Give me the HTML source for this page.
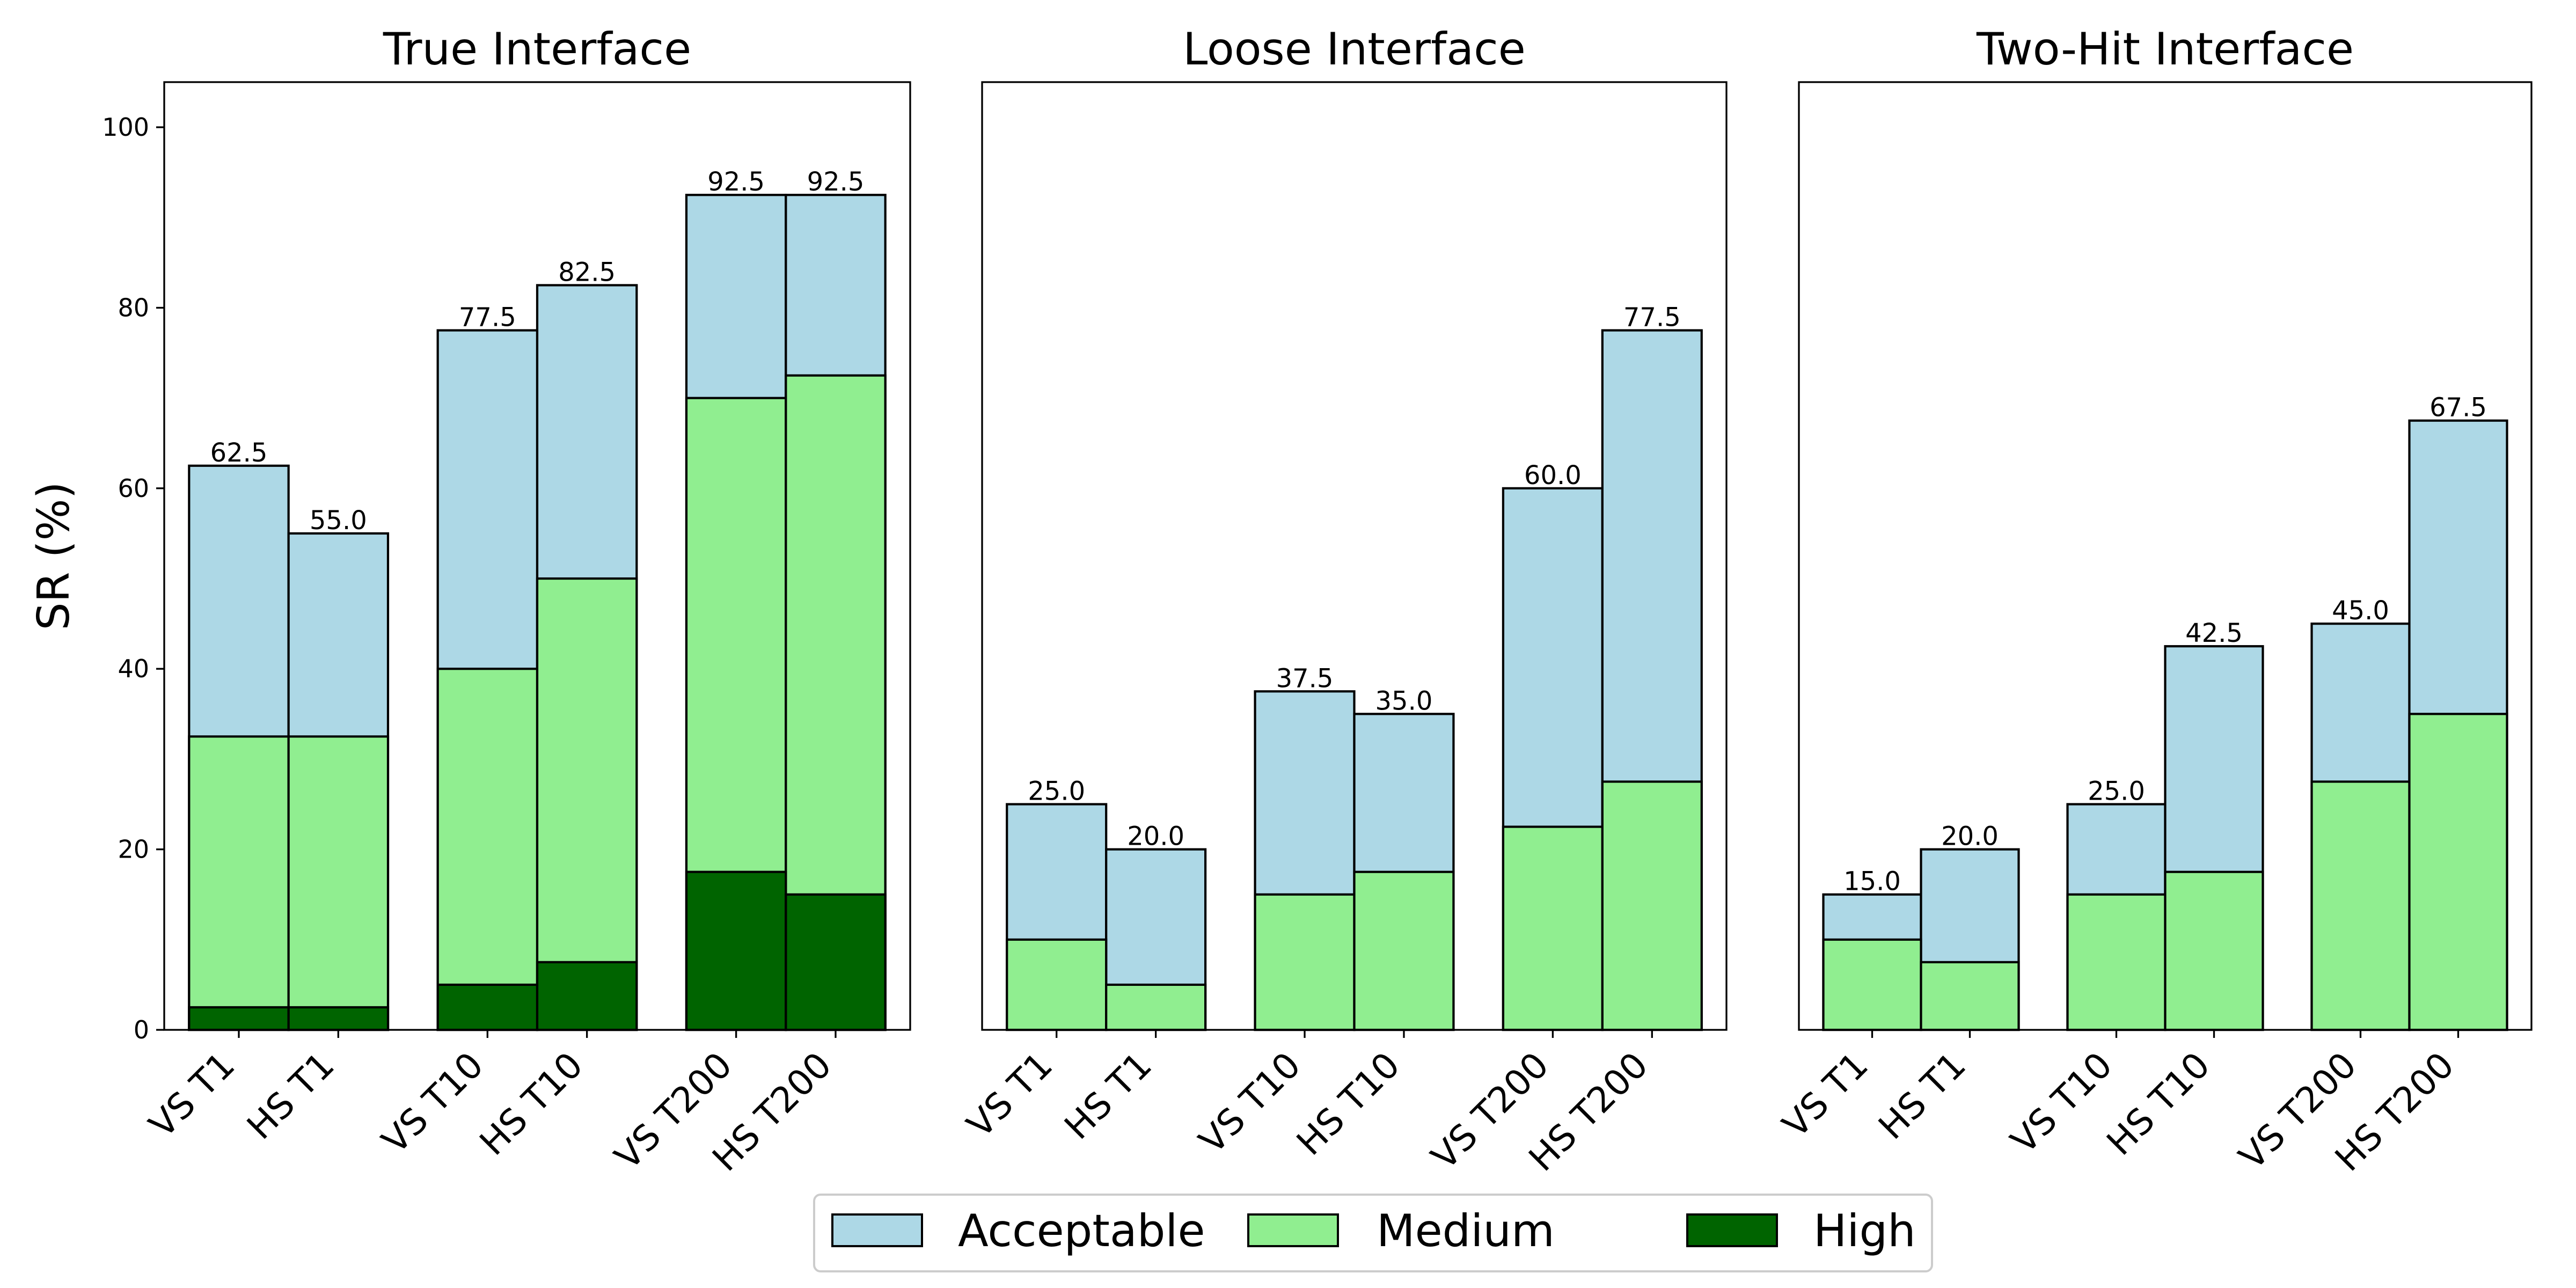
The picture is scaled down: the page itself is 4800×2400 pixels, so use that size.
<!DOCTYPE html>
<html><head><meta charset="utf-8"><style>
html,body{margin:0;padding:0;background:#fff;}
svg{display:block;font-family:"DejaVu Sans","Liberation Sans",sans-serif;}
</style></head><body>
<svg id="chart" width="4800" height="2400" viewBox="0 0 4800 2400" xmlns="http://www.w3.org/2000/svg">
<rect width="4800" height="2400" fill="#fff"/>
<text x="0" y="0" font-size="82" text-anchor="middle" transform="translate(128,1036) rotate(-90)">SR (%)</text>
<g id="legend">
<rect x="1517" y="2226" width="2083" height="143" rx="12" fill="#fff" stroke="#cccccc" stroke-width="4"/>
<g><rect x="1551" y="2263" width="167" height="59" fill="#add8e6" stroke="#000" stroke-width="4"/><text x="1785" y="2322" font-size="83">Acceptable</text></g>
<g><rect x="2326" y="2263" width="167" height="59" fill="#90ee90" stroke="#000" stroke-width="4"/><text x="2565" y="2322" font-size="83">Medium</text></g>
<g><rect x="3144" y="2263" width="167" height="59" fill="#006400" stroke="#000" stroke-width="4"/><text x="3379" y="2322" font-size="83">High</text></g>
</g>
</svg>
<script>
const categories = ["VS T1","HS T1","VS T10","HS T10","VS T200","HS T200"];
const xPositions = [0,1,2.5,3.5,5,6];
const panelTitles = ["True Interface","Loose Interface","Two-Hit Interface"];
const acceptableTrue = [62.5,55,77.5,82.5,92.5,92.5];
const mediumTrue = [32.5,32.5,40,50,70,72.5];
const highTrue = [2.5,2.5,5,7.5,17.5,15];
const acceptableLoose = [25,20,37.5,35,60,77.5];
const mediumLoose = [10,5,15,17.5,22.5,27.5];
const highLoose = [0,0,0,0,0,0];
const acceptableTwoHit = [15,20,25,42.5,45,67.5];
const mediumTwoHit = [10,7.5,15,17.5,27.5,35];
const highTwoHit = [0,0,0,0,0,0];
const yTicks = [0,20,40,60,80,100];

const NS = "http://www.w3.org/2000/svg";
const svgEl = document.getElementById("chart");
const panelsX = [[306,1696],[1830,3217],[3352,4717]];
const plotTop = 153, plotBottom = 1919;
const yMin = 0, yMax = 105, xMin = -0.75, xMax = 6.75;
const series = [
  [acceptableTrue, mediumTrue, highTrue],
  [acceptableLoose, mediumLoose, highLoose],
  [acceptableTwoHit, mediumTwoHit, highTwoHit]
];
const colors = ["#add8e6","#90ee90","#006400"];
const layerNames = ["acceptable","medium","high"];
function mk(tag, attrs, parent){
  const e = document.createElementNS(NS, tag);
  for (const k in attrs) e.setAttribute(k, attrs[k]);
  (parent||svgEl).appendChild(e);
  return e;
}
function yScale(v){ return plotBottom - (v - yMin) / (yMax - yMin) * (plotBottom - plotTop); }

panelsX.forEach(([L,R], p) => {
  const xScale = x => L + (x - xMin) / (xMax - xMin) * (R - L);
  const unit = (R - L) / (xMax - xMin);
  const g = mk("g", {});
  
  
  const t = mk("text", {x:(L+R)/2, y:120, "font-size":83, "text-anchor":"middle"}, g);
  t.textContent = panelTitles[p];
  
  
  series[p].forEach((vals, s) => {
    vals.forEach((v, i) => {
      if (v <= 0) return;
      const x0 = xScale(xPositions[i] - 0.5), y0 = yScale(v);
      const r = mk("rect", {x:x0, y:y0, width:unit, height:yScale(0)-y0, fill:colors[s], stroke:"#000", "stroke-width":4.2}, g);
      
      
    });
  });
  series[p][0].forEach((v, i) => {
    const tx = mk("text", {x:xScale(xPositions[i]), y:yScale(v)-8, "font-size":48, "text-anchor":"middle"}, g);
    tx.textContent = v.toFixed(1);
    
    
  });
  const fr = mk("rect", {x:L, y:plotTop, width:R-L, height:plotBottom-plotTop, fill:"none", stroke:"#000", "stroke-width":3.3}, g);
  
  
  xPositions.forEach((xp, i) => {
    const x = xScale(xp);
    mk("line", {x1:x, y1:plotBottom, x2:x, y2:plotBottom+15, stroke:"#000", "stroke-width":3.3}, g);
    const lx = x - 4, ly = plotBottom + 70;
    const lt = mk("text", {x:lx, y:ly, "font-size":66, "text-anchor":"end", transform:`rotate(-45 ${lx} ${ly})`}, g);
    lt.textContent = categories[i];
    
    
  });
  if (p === 0) {
    yTicks.forEach(v => {
      const y = yScale(v);
      mk("line", {x1:L-15, y1:y, x2:L, y2:y, stroke:"#000", "stroke-width":3.3}, g);
      const yt = mk("text", {x:L-28, y:y+16, "font-size":46, "text-anchor":"end"}, g);
      yt.textContent = v;
      
      
    });
  }
});
</script>
</body></html>
